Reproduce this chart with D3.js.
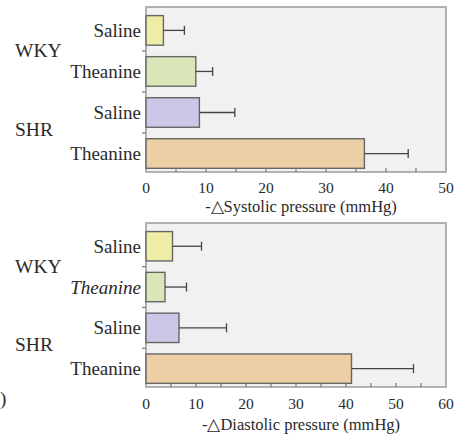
<!DOCTYPE html>
<html>
<head>
<meta charset="utf-8">
<script src="https://cdn.jsdelivr.net/npm/d3@7"></script>
<style>
  body { margin: 0; background: #fff; }
  text { font-family: "Liberation Serif", "Times New Roman", serif; fill: #2a2a2a; }
</style>
</head>
<body>
<div id="chart"></div>
<script>
// Data
const rowKeys = ["WKY-Saline", "WKY-Theanine", "SHR-Saline", "SHR-Theanine"];
const rowLabels = ["Saline", "Theanine", "Saline", "Theanine"];
const groups = ["WKY", "SHR"];
const systolic = [2.9, 8.3, 8.9, 36.4];
const systolicErr = [3.5, 2.8, 5.9, 7.3];
const diastolic = [5.3, 3.8, 6.6, 41.1];
const diastolicErr = [5.8, 4.3, 9.5, 12.4];
const barColors = ["#efeca8", "#d9e7b8", "#cac7e7", "#eccfa4"];

const width = 459, height = 436;
const svg = d3.select("#chart").append("svg")
    .attr("width", width)
    .attr("height", height);

svg.append("rect").attr("width", width).attr("height", height).attr("fill", "#fff");

function drawPanel(opts) {
    const x = d3.scaleLinear().domain([0, opts.xMax]).range([146, 446]);
    const y = d3.scaleBand().domain(rowKeys)
        .range([opts.top, opts.bottom])
        .paddingInner(0.28).paddingOuter(0.15).align(0.7);

    const g = svg.append("g");

    // plot background + frame
    g.append("rect")
        .attr("x", x(0)).attr("y", opts.top)
        .attr("width", x(opts.xMax) - x(0)).attr("height", opts.bottom - opts.top)
        .attr("fill", "#f1f1f1")
        .attr("stroke", "#9a9a9a")
        .attr("stroke-width", 1.5);

    // bars
    g.selectAll(".bar").data(opts.values).enter().append("rect")
        .attr("class", "bar")
        .attr("x", x(0))
        .attr("y", (d, i) => y(rowKeys[i]))
        .attr("width", d => x(d) - x(0))
        .attr("height", y.bandwidth())
        .attr("fill", (d, i) => barColors[i])
        .attr("stroke", "#666")
        .attr("stroke-width", 1.4);

    // error bars (one sided)
    const err = g.selectAll(".err").data(opts.values).enter().append("g")
        .attr("class", "err")
        .attr("transform", (d, i) => `translate(0,${y(rowKeys[i]) + y.bandwidth() / 2})`);
    err.append("line")
        .attr("x1", d => x(d))
        .attr("x2", (d, i) => x(d + opts.errors[i]))
        .attr("stroke", "#444").attr("stroke-width", 1.3);
    err.append("line")
        .attr("x1", (d, i) => x(d + opts.errors[i]))
        .attr("x2", (d, i) => x(d + opts.errors[i]))
        .attr("y1", -4.5).attr("y2", 4.5)
        .attr("stroke", "#444").attr("stroke-width", 1.3);

    // x axis ticks every 5 (inside), labels every 10
    const xAxis = g.append("g").attr("transform", `translate(0,${opts.bottom})`);
    xAxis.selectAll("line").data(d3.range(5, opts.xMax, 5)).enter().append("line")
        .attr("x1", d => x(d)).attr("x2", d => x(d))
        .attr("y1", -4).attr("y2", 0)
        .attr("stroke", "#777").attr("stroke-width", 1.2);
    xAxis.selectAll("text").data(d3.range(0, opts.xMax + 1, 10)).enter().append("text")
        .attr("x", d => x(d))
        .attr("y", opts.tickY - opts.bottom)
        .attr("text-anchor", "middle")
        .attr("dominant-baseline", "central")
        .style("font-size", "15.5px")
        .text(d => d);

    // y tick marks at band boundaries
    const step = y.step();
    g.selectAll(".ytick").data(rowKeys.slice(1)).enter().append("line")
        .attr("class", "ytick")
        .attr("x1", x(0) - 4).attr("x2", x(0))
        .attr("y1", d => y(d) - (step - y.bandwidth()) / 2)
        .attr("y2", d => y(d) - (step - y.bandwidth()) / 2)
        .attr("stroke", "#777").attr("stroke-width", 1.2);

    // row labels
    g.selectAll(".rowlab").data(rowKeys).enter().append("text")
        .attr("class", "rowlab")
        .attr("x", 141)
        .attr("y", d => y(d) + y.bandwidth() / 2)
        .attr("text-anchor", "end")
        .attr("dominant-baseline", "central")
        .style("font-size", "19px")
        .style("font-style", (d, i) => opts.italic.includes(i) ? "italic" : "normal")
        .text((d, i) => rowLabels[i]);

    // group labels
    const bound = i => y(rowKeys[i]) - (step - y.bandwidth()) / 2;
    g.selectAll(".grp").data(groups).enter().append("text")
        .attr("class", "grp")
        .attr("x", 15)
        .attr("y", (d, i) => i === 0 ? bound(1) : bound(3) - 4)
        .attr("dominant-baseline", "central")
        .style("font-size", "19.5px")
        .text(d => d);

    // axis title
    g.append("text")
        .attr("x", 301)
        .attr("y", opts.titleY)
        .attr("text-anchor", "middle")
        .attr("dominant-baseline", "central")
        .style("font-size", "16.5px")
        .text(opts.title);
}

drawPanel({
    values: systolic, errors: systolicErr, xMax: 50,
    top: 7, bottom: 172, tickY: 187, titleY: 206,
    title: "-\u25B3Systolic pressure (mmHg)", italic: []
});

drawPanel({
    values: diastolic, errors: diastolicErr, xMax: 60,
    top: 223, bottom: 387, tickY: 403, titleY: 424,
    title: "-\u25B3Diastolic pressure (mmHg)", italic: [1]
});

// partly visible character at the left edge
svg.append("text")
    .attr("x", 0).attr("y", 398)
    .attr("dominant-baseline", "central")
    .style("font-size", "19px")
    .text(")");
</script>
</body>
</html>
